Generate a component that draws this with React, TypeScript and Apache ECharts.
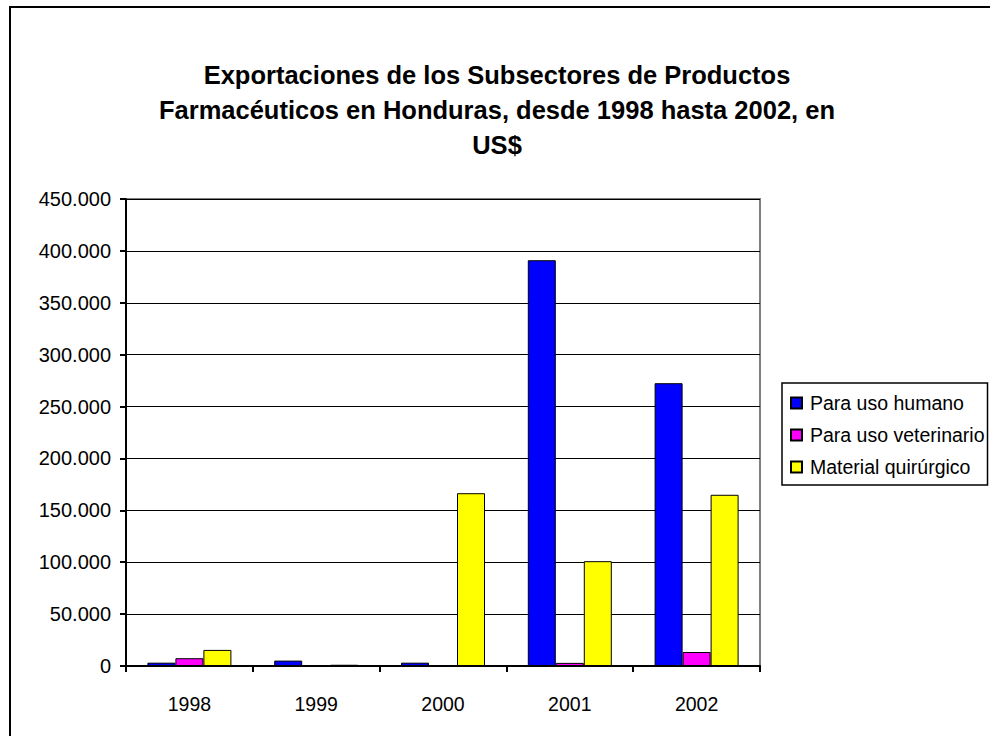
import React, { useEffect, useRef } from "react";
import * as echarts from "echarts";

const titleText = "Exportaciones de los Subsectores de Productos\nFarmacéuticos en Honduras, desde 1998 hasta 2002, en\nUS$";
const years = ["1998", "1999", "2000", "2001", "2002"];
const seriesNames = ["Para uso humano", "Para uso veterinario", "Material quirúrgico"];
const humano = [3200, 5200, 3200, 391000, 272500];
const veterinario = [7500, 0, 0, 3000, 13500];
const quirurgico = [15500, 1200, 166500, 101000, 165000];
const seriesColors = ["#0000FF", "#FF00FF", "#FFFF00"];

const fmt = (v: number) => {
  const s = Math.round(v).toString();
  return s.replace(/\B(?=(\d{3})+(?!\d))/g, ".");
};

export default function App() {
  const ref = useRef<HTMLDivElement>(null);
  useEffect(() => {
    if (!ref.current) return;
    const chart = echarts.init(ref.current, null, { renderer: "svg" });
    const font = "Arial, 'Liberation Sans', sans-serif";
    const data = [humano, veterinario, quirurgico];
    chart.setOption({
      animation: false,
      backgroundColor: "#ffffff",
      title: {
        text: titleText,
        left: 492,
        top: 52,
        textAlign: "center",
        textStyle: {
          fontFamily: font,
          fontSize: 25.5,
          fontWeight: "bold",
          color: "#000",
          lineHeight: 35,
        },
      },
      graphic: [
        {
          type: "rect",
          shape: { x: 10, y: 7, width: 1100, height: 900 },
          style: { fill: "none", stroke: "#000", lineWidth: 2 },
          silent: true,
        },
      ],
      legend: {
        orient: "vertical",
        left: 782,
        top: 383,
        padding: [10, 3, 8, 8],
        itemGap: 12,
        itemWidth: 11,
        itemHeight: 11,
        icon: "rect",
        borderColor: "#000",
        borderWidth: 1.5,
        textStyle: { fontFamily: font, fontSize: 19.5, color: "#000", padding: [0, 0, 0, 3] },
        data: seriesNames,
      },
      grid: {
        left: 126,
        top: 199,
        right: 230,
        bottom: 70,
        show: true,
        borderColor: "#808080",
        borderWidth: 2,
        backgroundColor: "transparent",
      },
      xAxis: {
        type: "category",
        data: years,
        axisLine: { lineStyle: { color: "#000", width: 2 } },
        axisTick: { show: true, length: 6, lineStyle: { color: "#000", width: 2 } },
        axisLabel: { fontFamily: font, fontSize: 19.5, color: "#000", margin: 28 },
      },
      yAxis: {
        type: "value",
        min: 0,
        max: 450000,
        interval: 50000,
        axisLine: { show: true, lineStyle: { color: "#000", width: 2 } },
        axisTick: { show: true, length: 6, lineStyle: { color: "#000", width: 2 } },
        splitLine: { show: true, lineStyle: { color: "#000", width: 1 } },
        axisLabel: {
          fontFamily: font,
          fontSize: 20,
          color: "#000",
          margin: 15,
          formatter: (v: number) => fmt(v),
        },
      },
      series: seriesNames.map((name, i) => ({
        name,
        type: "bar",
        data: data[i],
        barWidth: 28,
        barGap: "0%",
        itemStyle: { color: seriesColors[i], borderColor: "#000", borderWidth: 1 },
      })),
    });
    return () => chart.dispose();
  }, []);
  return (
    <div
      ref={ref}
      style={{ position: "fixed", left: 0, top: 0, width: 990, height: 736 }}
    />
  );
}
